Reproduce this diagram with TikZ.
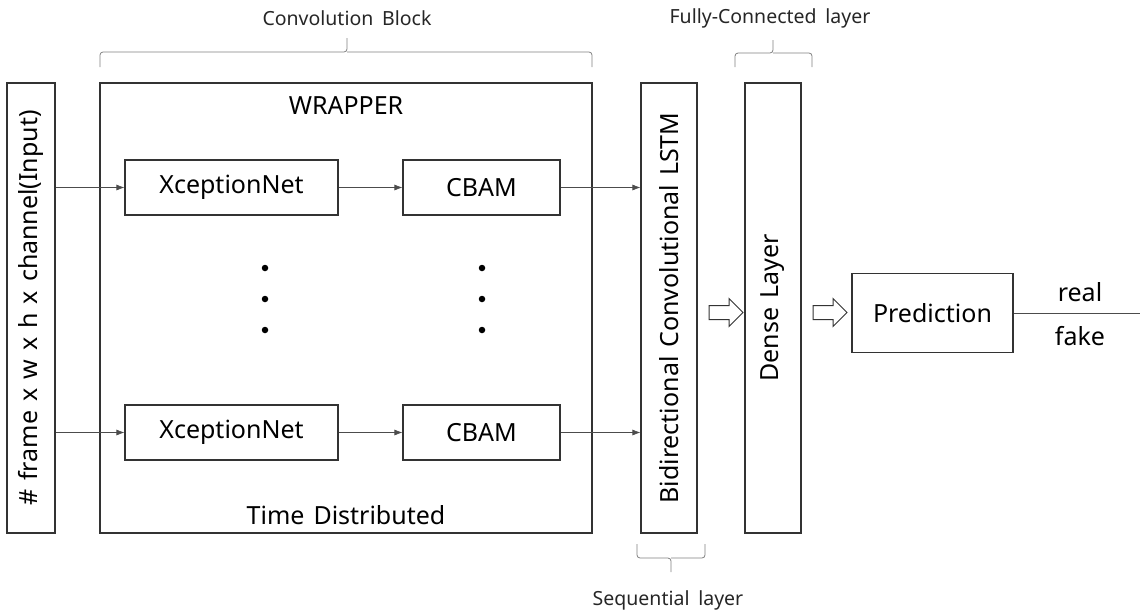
\documentclass[tikz,border=0pt]{standalone}
\usepackage{fontspec}
\setmainfont{Noto Sans}
\usetikzlibrary{arrows.meta,shapes.arrows}
\newcommand\mylblfont{\fontsize{25}{30}\selectfont\spaceskip=0.36em\relax}
\newcommand\mycapfont{\fontsize{19.5}{24}\selectfont\spaceskip=0.45em\relax}
\begin{document}
\begin{tikzpicture}[x=1pt,y=-1pt,
  box/.style={draw=black!80, line width=1.1pt, inner sep=0pt},
  lbl/.style={font=\mylblfont},
  captxt/.style={font=\mycapfont, text=black!85},
  conn/.style={draw=black!70, line width=0.7pt, -{Latex[length=8pt,width=6pt]}},
  brc/.style={draw=black!50, line width=0.8pt, rounded corners=3pt},
  hollow/.style={single arrow, draw=black!80, line width=1pt, minimum height=34pt, minimum width=0pt, inner xsep=0pt, inner ysep=6.5pt, single arrow head extend=7pt},
  dot/.style={circle, fill=black, inner sep=0pt, minimum size=6.5pt}]
\useasboundingbox (0,0) rectangle (1140,614);
% boxes
\node[box, minimum width=48pt, minimum height=450pt] (in) at (31,308) {};
\node[lbl, rotate=90] at (in.center) {\# frame x w x h x channel(Input)};
\node[box, minimum width=492pt, minimum height=450pt] (wrap) at (346,308) {};
\node[lbl] (wt) at (346,106) {WRAPPER};
\node[lbl] (td) at (346,515) {Time Distributed};
\node[box, minimum width=213pt, minimum height=55pt, lbl] (x1) at (231.5,187.5) {XceptionNet};
\node[box, minimum width=157pt, minimum height=55pt, lbl] (c1) at (481.5,187.5) {CBAM};
\node[box, minimum width=213pt, minimum height=55pt, lbl] (x2) at (231.5,432.5) {XceptionNet};
\node[box, minimum width=157pt, minimum height=55pt, lbl] (c2) at (481.5,432.5) {CBAM};
\foreach \y [count=\i] in {268,299,330}{
  \node[dot] (dl\i) at (265,\y) {};
  \node[dot] (dr\i) at (482,\y) {};
}
\node[box, minimum width=56pt, minimum height=450pt] (lstm) at (669,308) {};
\node[lbl, rotate=90] at (lstm.center) {Bidirectional Convolutional LSTM};
\node[box, minimum width=56pt, minimum height=450pt] (dense) at (773,308) {};
\node[lbl, rotate=90] at (dense.center) {Dense Layer};
\node[box, minimum width=161pt, minimum height=79pt, lbl] (pred) at (932.5,313) {Prediction};
\coordinate (out) at (1140,313);
\node[lbl] (real) at (1080,292) {real};
\node[lbl] (fake) at (1080,336) {fake};
% connectors
\draw[conn] (in.east |- x1.west) -- (x1.west);
\draw[conn] (x1) -- (c1);
\draw[conn] (c1.east) -- (lstm.west |- c1.east);
\draw[conn] (in.east |- x2.west) -- (x2.west);
\draw[conn] (x2) -- (c2);
\draw[conn] (c2.east) -- (lstm.west |- c2.east);
\draw[draw=black!70, line width=0.7pt] (pred.east) -- (out);
\node[hollow] (h1) at (722.5,312.5) {};
\node[hollow] (h2) at (826.5,312.5) {};
% braces
\draw[brc] (100,67) -- (100,52) -- (347,52) -- (347,38);
\draw[brc] (592,67) -- (592,52) -- (347,52);
\node[captxt] (cb) at (347,18) {Convolution Block};
\draw[brc] (735,67) -- (735,53) -- (773,53) -- (773,40);
\draw[brc] (812,67) -- (812,53) -- (773,53);
\node[captxt] (fc) at (770,18) {Fully-Connected layer};
\draw[brc] (637,544) -- (637,558) -- (671,558) -- (671,572);
\draw[brc] (705,544) -- (705,558) -- (671,558);
\node[captxt] (sl) at (668,600) {Sequential layer};
\end{tikzpicture}
\end{document}
